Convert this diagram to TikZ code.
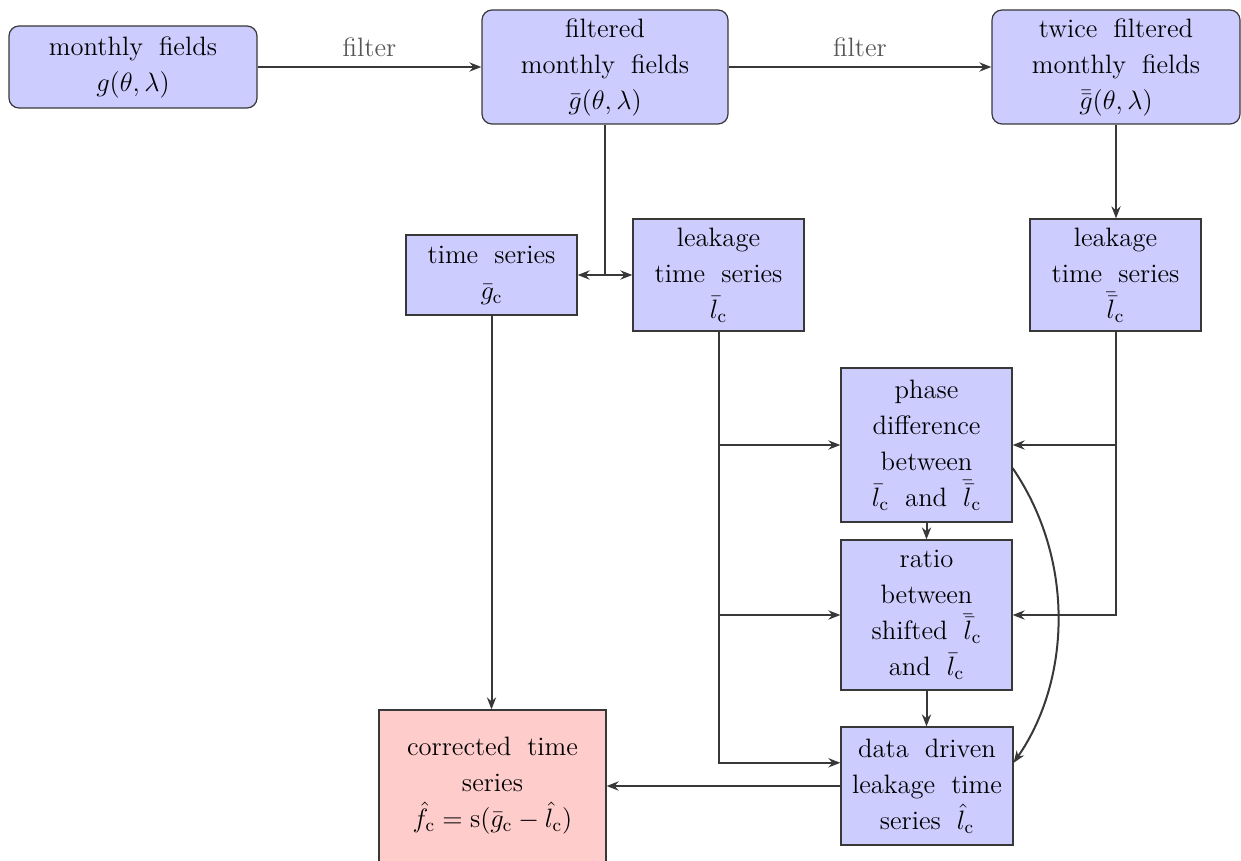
\RequirePackage{fix-cm}
\documentclass[tikz,border=0pt]{standalone}
\usetikzlibrary{arrows.meta}
\definecolor{boxblue}{HTML}{CCCCFF}
\definecolor{boxred}{HTML}{FFCCCC}
\definecolor{linegray}{HTML}{383838}
\definecolor{lblgray}{HTML}{555555}
\newcommand{\widespaces}{\spaceskip=8pt\relax}
\begin{document}
\begin{tikzpicture}[x=0.5pt,y=-0.5pt,
  box/.style={draw=linegray, fill=boxblue, line width=0.6pt, align=center, inner sep=0pt,
    font={\fontsize{13.3}{18}\selectfont}, execute at begin node={\widespaces}},
  rbox/.style={box, rounded corners=5pt},
  redbox/.style={box, fill=boxred},
  conn/.style={draw=linegray, line width=1pt, -{Stealth[length=6pt,width=4.6pt]}},
  lbl/.style={text=lblgray, font={\fontsize{13.3}{18}\selectfont}}]
\useasboundingbox (0,0) rectangle (1241,861);
% nodes
\node[rbox, minimum width=124pt, minimum height=41pt] (A) at (133,67)
  {monthly fields\\ $g(\theta,\lambda)$};
\node[rbox, minimum width=123pt, minimum height=57pt] (B) at (605,67)
  {filtered\\ monthly fields\\ $\bar{g}(\theta,\lambda)$};
\node[rbox, minimum width=124pt, minimum height=57pt] (C) at (1116,67)
  {twice filtered\\ monthly fields\\ $\bar{\bar{g}}(\theta,\lambda)$};
\node[box, minimum width=85.5pt, minimum height=40pt] (D) at (491.5,275)
  {time series\\ $\bar{g}_\mathrm{c}$};
\node[box, minimum width=85.5pt, minimum height=56pt] (E) at (718.5,275)
  {leakage\\ time series\\ $\bar{l}_\mathrm{c}$};
\node[box, minimum width=85.5pt, minimum height=56pt] (F) at (1115.5,275)
  {leakage\\ time series\\ $\bar{\bar{l}}_\mathrm{c}$};
\node[box, minimum width=85.5pt, minimum height=77pt] (G) at (926.5,445)
  {phase\\ difference\\ between\\ $\bar{l}_\mathrm{c}$ and $\bar{\bar{l}}_\mathrm{c}$};
\node[box, minimum width=85.5pt, minimum height=75pt] (H) at (926.5,615)
  {ratio\\ between\\ shifted $\bar{\bar{l}}_\mathrm{c}$\\ and $\bar{l}_\mathrm{c}$};
\node[box, minimum width=86pt, minimum height=59pt] (I) at (927,786)
  {data driven\\ leakage time\\ series $\hat{l}_\mathrm{c}$};
\node[redbox, minimum width=113.5pt, minimum height=76pt] (J) at (492.5,786)
  {corrected time\\ series\\ $\hat{f}_\mathrm{c}=\mathrm{s}(\bar{g}_\mathrm{c}-\hat{l}_\mathrm{c})$};
% connectors
\draw[conn] (A.east) -- node[lbl, yshift=10pt] {filter} (B.west);
\draw[conn] (B.east) -- node[lbl, yshift=10pt] {filter} (C.west);
\draw[conn] (B.south) |- (D.east);
\draw[conn] (B.south) |- (E.west);
\draw[conn] (C.south) -- (C.south |- F.north);
\draw[conn] (E.south) |- (I.165);
\draw[conn] (E.south |- G.west) -- (G.west);
\draw[conn] (E.south |- H.west) -- (H.west);
\draw[conn] (F.south) |- (H.east);
\draw[conn] (F.south |- G.east) -- (G.east);
\draw[conn] (G.south) -- (G.south |- H.north);
\draw[conn] (H.south) -- (H.south |- I.north);
\draw[conn] (D.south) -- (D.south |- J.north);
\draw[conn] (I.west) -- (J.east);
\draw[conn] (G.-15) .. controls +(63,92) and +(57,-82) .. (I.15);
\end{tikzpicture}
\end{document}
